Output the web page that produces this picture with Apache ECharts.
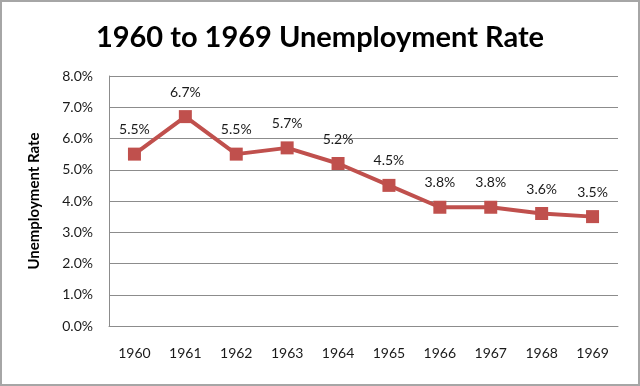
<!DOCTYPE html>
<html>
<head>
<meta charset="utf-8">
<script src="https://cdn.jsdelivr.net/npm/echarts@6/dist/echarts.min.js"></script>
<style>
html,body{margin:0;padding:0;background:#fff;}
#frame{position:absolute;left:0;top:0;width:636px;height:382px;border:2px solid #a6a6a6;}
#chart{position:absolute;left:0;top:0;width:640px;height:386px;}
</style>
</head>
<body>
<div id="frame"></div>
<div id="chart"></div>
<script>
const years = ['1960','1961','1962','1963','1964','1965','1966','1967','1968','1969'];
const rates = [5.5, 6.7, 5.5, 5.7, 5.2, 4.5, 3.8, 3.8, 3.6, 3.5];
const titleText = '1960 to 1969 Unemployment Rate';
const yAxisName = 'Unemployment Rate';

const chart = echarts.init(document.getElementById('chart'), null, {renderer:'canvas'});
chart.setOption({
  animation: false,
  title: {
    text: titleText,
    left: 'center',
    top: 18,
    textStyle: {fontFamily: 'Lato', fontWeight: 'bold', fontSize: 29, color: '#000'}
  },
  grid: {left: 109, right: 22, top: 76, bottom: 60, containLabel: false},
  xAxis: {
    type: 'category',
    data: years,
    boundaryGap: true,
    axisLine: {lineStyle: {color: '#8c8c8c', width: 1}},
    axisTick: {show: false},
    axisLabel: {margin: 20, fontFamily: 'Lato', fontSize: 14, color: '#1a1a1a'}
  },
  yAxis: {
    type: 'value',
    min: 0, max: 8, interval: 1,
    name: yAxisName,
    nameLocation: 'middle',
    nameRotate: 90,
    nameGap: 67,
    nameTextStyle: {fontFamily: 'Lato', fontWeight: 'bold', fontSize: 15, color: '#000'},
    axisLine: {show: true, lineStyle: {color: '#8c8c8c', width: 1}},
    axisTick: {show: false},
    splitLine: {lineStyle: {color: '#8c8c8c', width: 1}},
    axisLabel: {margin: 16, fontFamily: 'Lato', fontSize: 14, color: '#1a1a1a',
      formatter: v => v.toFixed(1) + '%'}
  },
  series: [{
    type: 'line',
    data: rates,
    symbol: 'rect',
    symbolSize: 13,
    lineStyle: {color: '#c0504d', width: 4},
    itemStyle: {color: '#c0504d'},
    label: {show: true, position: 'top', distance: 11, fontFamily: 'Lato', fontSize: 14, color: '#1a1a1a',
      formatter: p => p.value.toFixed(1) + '%'}
  }]
});
</script>
</body>
</html>
